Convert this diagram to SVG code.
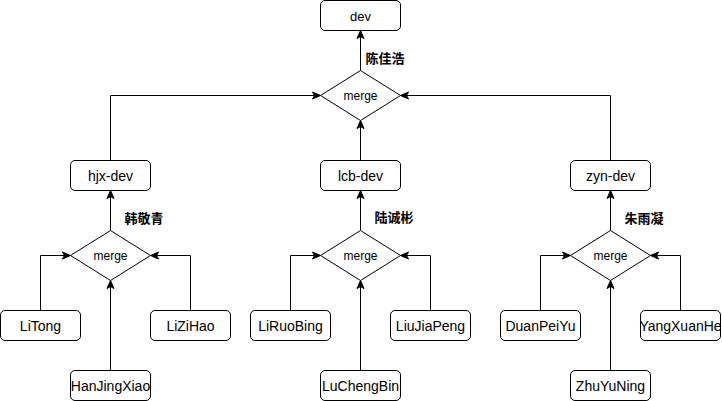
<svg xmlns="http://www.w3.org/2000/svg" width="722" height="401" viewBox="0 0 722 401">
<style>
.box{fill:#fff;stroke:#000;stroke-width:1}
.dia{fill:#fff;stroke:#000;stroke-width:1}
.t{font-family:"Liberation Sans",Arial,sans-serif;font-size:14px;fill:#000;text-anchor:middle}
.m{font-family:"Liberation Sans",Arial,sans-serif;font-size:12px;fill:#000;text-anchor:middle}
.lbl{font-family:"Liberation Sans","Noto Sans CJK SC",sans-serif;font-size:13px;font-weight:bold;fill:#000}
.c{fill:none;stroke:#000;stroke-width:1;marker-end:url(#arr)}
</style>
<defs>
<marker id="arr" markerUnits="userSpaceOnUse" markerWidth="10" markerHeight="10" viewBox="0 0 10 10" refX="9" refY="5" orient="auto">
<path d="M1,1.5 L9,5 L1,8.5 L3,5 z" fill="#000" stroke="#000" stroke-width="1"/>
</marker>
</defs>
<rect width="722" height="401" fill="#fff"/>
<g transform="translate(0.5 0.5)">
<g id="connectors">
<path class="c" d="M360,70 L360,30"/>
<path class="c" d="M110,160 L110,95 L320,95"/>
<path class="c" d="M360,160 L360,120"/>
<path class="c" d="M610,160 L610,95 L400,95"/>
<path class="c" d="M110,230 L110,190"/>
<path class="c" d="M40,310 L40,255 L70,255"/>
<path class="c" d="M190,310 L190,255 L150,255"/>
<path class="c" d="M110,370 L110,280"/>
<path class="c" d="M360,230 L360,190"/>
<path class="c" d="M290,310 L290,255 L320,255"/>
<path class="c" d="M430,310 L430,255 L400,255"/>
<path class="c" d="M360,370 L360,280"/>
<path class="c" d="M610,230 L610,190"/>
<path class="c" d="M540,310 L540,255 L570,255"/>
<path class="c" d="M680,310 L680,255 L650,255"/>
<path class="c" d="M610,370 L610,280"/>
</g>
<g id="dev"><rect class="box" x="320" y="0" width="80" height="30" rx="4.5"/><text class="t" x="360" y="20" style="font-size:13px">dev</text></g>
<g id="merge-top"><path class="dia" d="M360,70 L400,95 L360,120 L320,95 z"/><text class="m" x="360" y="99">merge</text></g>
<g id="hjx-dev"><rect class="box" x="70" y="160" width="80" height="30" rx="4.5"/><text class="t" x="110" y="180">hjx-dev</text></g>
<g id="lcb-dev"><rect class="box" x="320" y="160" width="80" height="30" rx="4.5"/><text class="t" x="360" y="180">lcb-dev</text></g>
<g id="zyn-dev"><rect class="box" x="570" y="160" width="80" height="30" rx="4.5"/><text class="t" x="610" y="180">zyn-dev</text></g>
<g id="merge-hjx"><path class="dia" d="M110,230 L150,255 L110,280 L70,255 z"/><text class="m" x="110" y="259">merge</text></g>
<g id="merge-lcb"><path class="dia" d="M360,230 L400,255 L360,280 L320,255 z"/><text class="m" x="360" y="259">merge</text></g>
<g id="merge-zyn"><path class="dia" d="M610,230 L650,255 L610,280 L570,255 z"/><text class="m" x="610" y="259">merge</text></g>
<g id="LiTong"><rect class="box" x="0" y="310" width="80" height="30" rx="4.5"/><text class="t" x="40" y="330">LiTong</text></g>
<g id="LiZiHao"><rect class="box" x="150" y="310" width="80" height="30" rx="4.5"/><text class="t" x="190" y="330">LiZiHao</text></g>
<g id="HanJingXiao"><rect class="box" x="70" y="370" width="80" height="30" rx="4.5"/><text class="t" x="110" y="390">HanJingXiao</text></g>
<g id="LiRuoBing"><rect class="box" x="250" y="310" width="80" height="30" rx="4.5"/><text class="t" x="290" y="330">LiRuoBing</text></g>
<g id="LiuJiaPeng"><rect class="box" x="390" y="310" width="80" height="30" rx="4.5"/><text class="t" x="430" y="330">LiuJiaPeng</text></g>
<g id="LuChengBin"><rect class="box" x="320" y="370" width="80" height="30" rx="4.5"/><text class="t" x="360" y="390">LuChengBin</text></g>
<g id="DuanPeiYu"><rect class="box" x="500" y="310" width="80" height="30" rx="4.5"/><text class="t" x="540" y="330">DuanPeiYu</text></g>
<g id="YangXuanHe"><rect class="box" x="640" y="310" width="80" height="30" rx="4.5"/><text class="t" x="680" y="330">YangXuanHe</text></g>
<g id="ZhuYuNing"><rect class="box" x="570" y="370" width="80" height="30" rx="4.5"/><text class="t" x="610" y="390">ZhuYuNing</text></g>
<g id="labels">
<text class="lbl" x="365" y="62">陈佳浩</text>
<text class="lbl" x="124" y="222">韩敬青</text>
<text class="lbl" x="374" y="221">陆诚彬</text>
<text class="lbl" x="624" y="222">朱雨凝</text>
</g>
</g>
</svg>
